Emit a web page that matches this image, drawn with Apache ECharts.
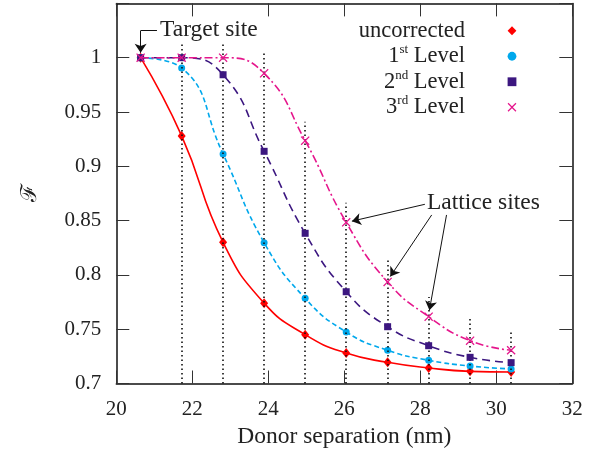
<!DOCTYPE html>
<html><head><meta charset="utf-8">
<script src="https://cdn.jsdelivr.net/npm/echarts@6/dist/echarts.min.js"></script>
<style>html,body{margin:0;padding:0;background:#fff}#c{width:603px;height:462px}</style>
</head><body><div id="c"></div>
<script>
// ---- data ----
const separation = [20.64, 21.72, 22.81, 23.89, 24.97, 26.05, 27.14, 28.22, 29.31, 30.39];
const uncorrected = [1.0, 0.928, 0.830, 0.774, 0.745, 0.728, 0.7195, 0.7143, 0.7112, 0.7106];
const level1 = [1.0, 0.9905, 0.9113, 0.8297, 0.7784, 0.7474, 0.7306, 0.7214, 0.7161, 0.7134];
const level2 = [1.0, 1.0, 0.9843, 0.9138, 0.8383, 0.7845, 0.7523, 0.7348, 0.7241, 0.7192];
const level3 = [1.0, 1.0, 1.0, 0.9856, 0.9236, 0.8484, 0.7935, 0.7615, 0.7394, 0.7306];
const guideTop = [null, 1.0138, 1.0138, 1.0046, 0.9411, 0.8665, 0.8158, 0.7797, 0.7594, 0.7486];
const seriesNames = ['uncorrected', '1st Level', '2nd Level', '3rd Level'];
const legendLabels = ['uncorrected', '1{sup|st} Level', '2{sup|nd} Level', '3{sup|rd} Level'];
const xAxisRange = {min: 20, max: 32, interval: 2};
const yAxisRange = {min: 0.7, max: 1.05, interval: 0.05};
const xTitle = 'Donor separation (nm)';
const yTitle = 'ℱ';
const targetLabel = 'Target site';
const latticeLabel = 'Lattice sites';

// ---- styling ----
const FONT = '"Liberation Serif", serif';
const TXT = '#222';
const colors = ['#ff0000', '#00a8ec', '#3c1780', '#e5168c'];
const crossPath = 'path://M0,1L1,0L5,4L9,0L10,1L6,5L10,9L9,10L5,6L1,10L0,9L4,5Z';

function pairs(ys) { return separation.map((x, i) => [x, ys[i]]); }

const guideLines = [];
separation.forEach((x, i) => {
  if (guideTop[i] != null) guideLines.push([{coord: [x, yAxisRange.min]}, {coord: [x, guideTop[i]]}]);
});

const arrowStyle = {color: '#111', width: 1, type: 'solid'};
const annotationArrows = [
  [{coord: [21.07, 1.0249], symbol: 'none'}, {coord: [separation[0], 1.0249], symbol: 'none'}],
  [{coord: [separation[0], 1.0249], symbol: 'none'}, {coord: [separation[0], 1.0045], symbol: 'arrow'}],
  [{coord: [28.12, 0.865], symbol: 'none'}, {coord: [26.2, 0.8495], symbol: 'arrow'}],
  [{coord: [28.30, 0.8552], symbol: 'none'}, {coord: [27.21, 0.7985], symbol: 'arrow'}],
  [{coord: [28.69, 0.8552], symbol: 'none'}, {coord: [28.24, 0.7675], symbol: 'arrow'}]
];

const lineTypes = ['solid', [5, 3], [8, 5], [8, 3, 2, 3]];
const symbols = ['diamond', 'circle', 'rect', crossPath];
const symbolSizes = [[8, 10], 7, 7, 9];
const allData = [uncorrected, level1, level2, level3];

const dataSeries = allData.map((ys, i) => ({
  name: seriesNames[i],
  type: 'line',
  data: pairs(ys),
  smooth: 0.5,
  symbol: symbols[i],
  symbolSize: symbolSizes[i],
  showAllSymbol: true,
  z: 3 + i,
  lineStyle: {color: colors[i], width: 1.6, type: lineTypes[i]},
  itemStyle: {color: colors[i]},
  emphasis: {disabled: true},
  animation: false
}));

const axisLineStyle = {color: '#111', width: 1.5};
const tickStyle = {show: true, inside: true, length: 13, lineStyle: {color: '#333', width: 1}};

const option = {
  animation: false,
  backgroundColor: '#fff',
  textStyle: {fontFamily: FONT},
  grid: {left: 116.3, right: 30.7, top: 3.4, bottom: 78.5},
  xAxis: [{
    type: 'value', min: xAxisRange.min, max: xAxisRange.max, interval: xAxisRange.interval,
    name: xTitle, nameLocation: 'middle', nameGap: 41,
    nameTextStyle: {fontFamily: FONT, fontSize: 23.5, color: TXT},
    axisLine: {show: true, onZero: false, lineStyle: axisLineStyle},
    axisTick: tickStyle,
    axisLabel: {fontFamily: FONT, fontSize: 21, color: TXT, margin: 15},
    splitLine: {show: false}
  }, {
    type: 'value', position: 'top', min: xAxisRange.min, max: xAxisRange.max, interval: xAxisRange.interval,
    axisLine: {show: true, onZero: false, lineStyle: axisLineStyle},
    axisTick: tickStyle,
    axisLabel: {show: false}, splitLine: {show: false}
  }],
  yAxis: [{
    type: 'value', min: yAxisRange.min, max: yAxisRange.max, interval: yAxisRange.interval,
    name: yTitle, nameLocation: 'middle', nameGap: 75, nameRotate: 90,
    nameTextStyle: {fontFamily: '"DejaVu Serif", serif', fontSize: 22, color: TXT},
    axisLine: {show: true, onZero: false, lineStyle: axisLineStyle},
    axisTick: tickStyle,
    axisLabel: {fontFamily: FONT, fontSize: 21, color: TXT, margin: 15,
      formatter: v => v > 1.001 ? '' : String(+v.toFixed(2))},
    splitLine: {show: false}
  }, {
    type: 'value', position: 'right', min: yAxisRange.min, max: yAxisRange.max, interval: yAxisRange.interval,
    axisLine: {show: true, onZero: false, lineStyle: axisLineStyle},
    axisTick: tickStyle,
    axisLabel: {show: false}, splitLine: {show: false}
  }],
  legend: {
    orient: 'vertical', align: 'right', right: 84, top: 18, padding: 0, itemGap: 0,
    itemWidth: 14, itemHeight: 11, selectedMode: false,
    data: seriesNames,
    formatter: name => legendLabels[seriesNames.indexOf(name)],
    lineStyle: {width: 0, opacity: 0},
    textStyle: {fontFamily: FONT, fontSize: 22.5, color: TXT, lineHeight: 25.5, padding: [0, 35, 0, 0],
      rich: {sup: {fontFamily: FONT, fontSize: 13, color: TXT, verticalAlign: 'top', lineHeight: 15}}}
  },
  graphic: [
    {type: 'text', left: 160, top: 18, style: {text: targetLabel, font: '23.5px ' + FONT, fill: TXT}},
    {type: 'text', left: 427, top: 190.5, style: {text: latticeLabel, font: '23.5px ' + FONT, fill: TXT}}
  ],
  series: [{
    name: 'guides', type: 'line', data: [], silent: true, z: 1,
    markLine: {
      silent: true, symbol: 'none', animation: false,
      label: {show: false},
      lineStyle: {color: '#111', width: 1.6, type: [1.5, 3]},
      data: guideLines
    }
  }, {
    name: 'annotations', type: 'line', data: [], silent: true, z: 8,
    markLine: {
      silent: true, symbolSize: 9, animation: false,
      label: {show: false},
      lineStyle: arrowStyle,
      emphasis: {disabled: true},
      data: annotationArrows
    }
  }].concat(dataSeries)
};

const chart = echarts.init(document.getElementById('c'), null, {renderer: 'canvas'});
chart.setOption(option);
</script>
</body></html>
